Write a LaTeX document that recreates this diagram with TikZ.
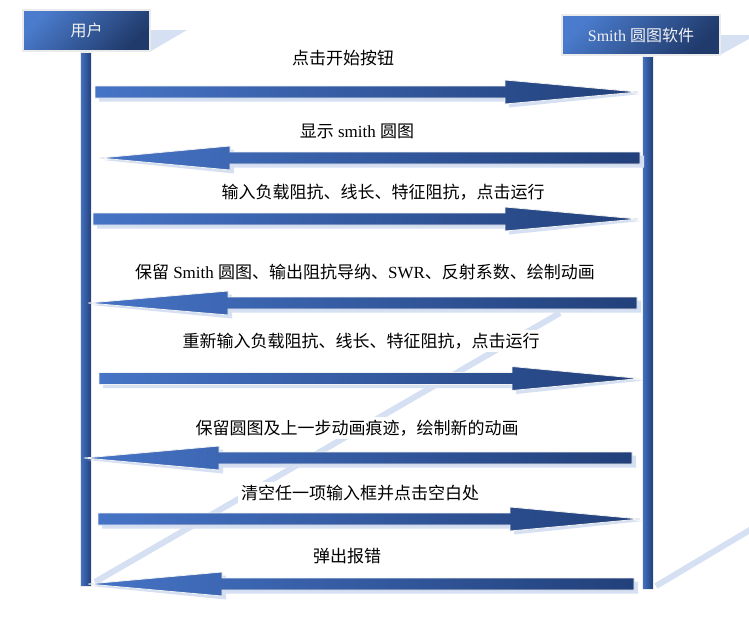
\documentclass[tikz,border=0pt]{standalone}
\usepackage{fontspec}
\setmainfont{Liberation Serif}
\newfontfamily\cjk{Noto Sans CJK SC}
\definecolor{hlight}{HTML}{4A7BCC}
\definecolor{hdark}{HTML}{203A6B}
\definecolor{alight}{HTML}{4674C6}
\definecolor{adark}{HTML}{22407A}
\definecolor{shad}{HTML}{D6E0F3}
\newcommand{\blockarr}[4]{%
  \fill[arrowshadow] ({#1+4},{#4-6+3.5}) -- ({#2+4},{#4-6+3.5}) -- ({#2+4},{#4-12+3.5}) -- ({#3+3},{#4+2}) -- ({#2+4},{#4+12+3.5}) -- ({#2+4},{#4+6+3.5}) -- ({#1+4},{#4+6+3.5}) -- cycle;
  \shade[arrowbody] (#1,{#4-6}) -- (#2,{#4-6}) -- (#2,{#4-12}) -- (#3,#4) -- (#2,{#4+12}) -- (#2,{#4+6}) -- (#1,{#4+6}) -- cycle;
}
\begin{document}
\begin{tikzpicture}[x=1pt,y=-1pt,
  header/.style={draw=white!92!black, line width=1.2pt, top color=hlight, bottom color=hdark, shading angle=45, text=white!95!black, font=\fontsize{16}{19}\selectfont, inner sep=0pt},
  msg/.style={fill=white, font=\fontsize{17}{20}\selectfont, inner sep=3pt},
  lifeline/.style={draw=white!92!black, line width=0.8pt, left color=alight, right color=adark, inner sep=0pt, minimum width=11pt},
  arrowbody/.style={draw=white!95!black, line width=0.8pt, left color=alight, right color=adark},
  arrowshadow/.style={fill=shad},
  bandshadow/.style={draw=shad, line width=6pt},
  hshadow/.style={fill=shad}]
\useasboundingbox (0,0) rectangle (749,625);
\clip (0,0) rectangle (749,625);
\fill[white] (0,0) rectangle (749,625);
% perspective shadows of the lifelines
\draw[bandshadow] (95,582) -- (560,313);
\draw[bandshadow] (656,586) -- (780,512);
% header shadows
\fill[hshadow] (151,30) -- (187,30) -- (151,51) -- cycle;
\fill[hshadow] (720,35) -- (756,35) -- (720,55) -- cycle;
% headers
\node[header, minimum width=127pt, minimum height=41pt] (uhead) at (86.5,30.5) {{\cjk 用户}};
\node[header, minimum width=158pt, minimum height=40pt] (shead) at (641,35) {Smith {\cjk 圆图软件}};
% lifelines
\node[lifeline, minimum height=534pt, anchor=north] (ulife) at ([xshift=-1pt]uhead.south) {};
\node[lifeline, minimum height=533pt, anchor=north] (slife) at ([xshift=6.5pt]shead.south) {};
% messages
\node[msg] (m1) at (343,58) {{\cjk 点击开始按钮}};
\node[msg] (m2) at (357,131) {{\cjk 显示} smith {\cjk 圆图}};
\node[msg] (m3) at (383,192) {{\cjk 输入负载阻抗、线长、特征阻抗，点击运行}};
\node[msg] (m4) at (365,272) {{\cjk 保留} Smith {\cjk 圆图、输出阻抗导纳、}SWR{\cjk 、反射系数、绘制动画}};
\node[msg] (m5) at (361,341) {{\cjk 重新输入负载阻抗、线长、特征阻抗，点击运行}};
\node[msg] (m6) at (357,428) {{\cjk 保留圆图及上一步动画痕迹，绘制新的动画}};
\node[msg] (m7) at (360,493) {{\cjk 清空任一项输入框并点击空白处}};
\node[msg] (m8) at (347,556) {{\cjk 弹出报错}};
% arrows
\blockarr{95}{505}{638}{92}
\blockarr{640}{230}{100}{158}
\blockarr{93}{505}{638}{219}
\blockarr{637}{228}{88}{303}
\blockarr{99}{512}{640}{378.5}
\blockarr{632}{219}{84}{458}
\blockarr{98}{510}{640}{519}
\blockarr{634}{222}{88}{584}
\end{tikzpicture}
\end{document}
